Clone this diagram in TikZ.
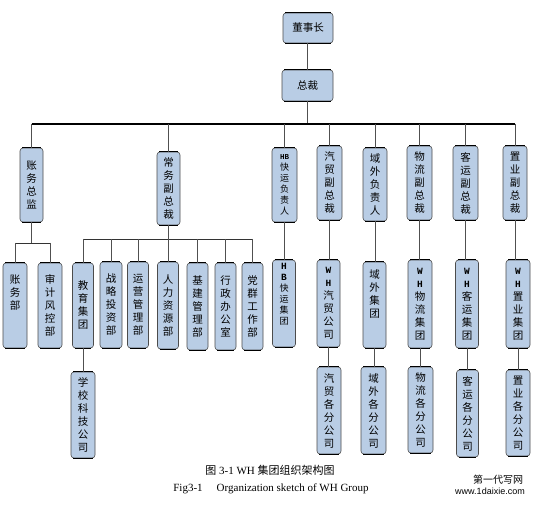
\documentclass[tikz,border=0pt]{standalone}
\usepackage{fontspec}
\setmainfont{Liberation Serif}
\newfontfamily\cjk{Noto Sans CJK SC}
\newfontfamily\monob{Liberation Mono}
\newfontfamily\wmsans{Liberation Sans}
\definecolor{boxblue}{HTML}{B9CDE5}
\definecolor{linegray}{HTML}{505050}
\newcommand\latl[1]{{\monob\bfseries\fontsize{9.5}{10}\selectfont #1}}
\begin{document}
\begin{tikzpicture}[x=1pt,y=-1pt,
  box/.style={draw=black!70, line width=0.6pt, fill=boxblue, rounded corners=3pt,
    inner sep=0pt, align=center, font={\cjk\fontsize{10.5}{13}\selectfont}},
  sbox/.style={box, font={\cjk\fontsize{9}{11}\selectfont}},
  conn/.style={draw=linegray, line width=0.7pt},
  busline/.style={draw=black, line width=1.6pt},
  subbus/.style={draw=black!80, line width=0.8pt}
]
\fill[white] (0,0) rectangle (545,510);
\useasboundingbox (0,0) rectangle (545,510);

\newcommand\bx[6]{\node[#1, minimum width=#4, minimum height=#5] (#2) at (#3) {#6};}

% level 0
\bx{box}{dsz}{308,28}{50pt}{30pt}{董事长}
\bx{box}{zc}{307.5,85.5}{51pt}{31pt}{总裁}

% level 1
\bx{box}{zw}{31.5,185}{23pt}{74pt}{账\\务\\总\\监}
\bx{box}{cw}{168.5,188.5}{23pt}{73pt}{常\\务\\副\\总\\裁}
\bx{sbox}{hb}{284.5,185}{25pt}{74pt}{{\monob\bfseries\fontsize{7.5}{8}\selectfont HB}\\快\\运\\负\\责\\人}
\bx{box}{qm}{329.5,183}{25pt}{74pt}{汽\\贸\\副\\总\\裁}
\bx{box}{yw}{375,184.5}{24pt}{73pt}{域\\外\\负\\责\\人}
\bx{box}{wl}{419.5,183}{25pt}{74pt}{物\\流\\副\\总\\裁}
\bx{box}{ky}{465.5,183}{25pt}{74pt}{客\\运\\副\\总\\裁}
\bx{box}{zy}{515,183}{24pt}{74pt}{置\\业\\副\\总\\裁}

% level 2
\bx{box}{cwb}{15,305.5}{24pt}{85pt}{账\\务\\部\\[14pt]}
\bx{box}{sj}{50,305.5}{24pt}{85pt}{审\\计\\风\\控\\部}
\bx{box}{jy}{83,305.5}{21pt}{85pt}{教\\育\\集\\团}
\bx{box}{zl}{111,305}{22pt}{86pt}{战\\略\\投\\资\\部}
\bx{box}{yy}{138,305}{21pt}{86pt}{运\\营\\管\\理\\部}
\bx{box}{rl}{168,305.5}{21pt}{87pt}{人\\力\\资\\源\\部}
\bx{box}{jj}{197.5,306.5}{21pt}{87pt}{基\\建\\管\\理\\部}
\bx{box}{xz}{225.5,306.5}{21pt}{87pt}{行\\政\\办\\公\\室}
\bx{box}{dq}{252.5,306.5}{21pt}{87pt}{党\\群\\工\\作\\部}
\bx{sbox}{hbg}{284,303.5}{23pt}{87pt}{\latl{H}\\\latl{B}\\快\\运\\集\\团\\[8pt]}
\bx{box}{qmg}{328.5,303.5}{23pt}{87pt}{\latl{W}\\\latl{H}\\汽\\贸\\公\\司}
\bx{box}{ywg}{374.5,305}{23pt}{86pt}{域\\外\\集\\团\\[10pt]}
\bx{box}{wlg}{420,304}{24pt}{88pt}{\latl{W}\\\latl{H}\\物\\流\\集\\团}
\bx{box}{kyg}{467,304}{23pt}{88pt}{\latl{W}\\\latl{H}\\客\\运\\集\\团}
\bx{box}{zyg}{518,304}{24pt}{88pt}{\latl{W}\\\latl{H}\\置\\业\\集\\团}

% level 3
\bx{box}{xx}{83,415}{24pt}{86pt}{学\\校\\科\\技\\公\\司}
\bx{box}{qmf}{329,410.5}{24pt}{87pt}{汽\\贸\\各\\分\\公\\司}
\bx{box}{ywf}{373.5,410.5}{25pt}{87pt}{域\\外\\各\\分\\公\\司}
\bx{box}{wlf}{420.5,410}{25pt}{86pt}{物\\流\\各\\分\\公\\司}
\bx{box}{kyf}{467.5,413.5}{22pt}{87pt}{客\\运\\各\\分\\公\\司}
\bx{box}{zyf}{518,413}{24pt}{86pt}{置\\业\\各\\分\\公\\司}

% thick top/bottom edges
\foreach \n in {dsz,zc,zw,cw,hb,qm,yw,wl,ky,zy,cwb,sj,jy,zl,yy,rl,jj,xz,dq,hbg,qmg,ywg,wlg,kyg,zyg,xx,qmf,ywf,wlf,kyf,zyf}{
  \draw[line width=1.4pt, black] ([xshift=2.5pt]\n.north west) -- ([xshift=-2.5pt]\n.north east);
  \draw[line width=1.4pt, black] ([xshift=2.5pt]\n.south west) -- ([xshift=-2.5pt]\n.south east);
}

% connectors
\coordinate (bus) at (304,124);
\coordinate (sub1) at (30,243);
\coordinate (sub2) at (168,239);
\draw[conn] (dsz.south -| zc.north) -- (zc.north);
\draw[conn] (zc.south) -- (zc.south |- bus);
\draw[busline] (zw.north |- bus) -- (zy.north |- bus);
\foreach \n in {zw,cw,hb,qm,yw,wl,ky,zy}{
  \draw[conn] (\n.north |- bus) -- (\n.north);
}
\draw[conn] (zw.south) -- (zw.south |- sub1);
\draw[subbus] (cwb.north |- sub1) -- (sj.north |- sub1);
\foreach \n in {cwb,sj}{ \draw[conn] (\n.north |- sub1) -- (\n.north); }
\draw[conn] (cw.south) -- (cw.south |- sub2);
\draw[subbus] (jy.north |- sub2) -- (dq.north |- sub2);
\foreach \n in {jy,zl,yy,rl,jj,xz,dq}{ \draw[conn] (\n.north |- sub2) -- (\n.north); }
\draw[conn] (jy.south) -- (jy.south |- xx.north);
\foreach \a/\b in {hb/hbg,qm/qmg,yw/ywg,wl/wlg,ky/kyg,zy/zyg,qmg/qmf,ywg/ywf,wlg/wlf,kyg/kyf,zyg/zyf}{
  \draw[conn] (\a.south) -- (\a.south |- \b.north);
}

% captions
\node[font={\fontsize{11}{13}\selectfont}] (cap1) at (270,470) {{\cjk 图} 3-1 WH {\cjk 集团组织架构图}};
\node[font={\fontsize{11}{13}\selectfont}] (cap2) at (271,489) {Fig3-1\hspace{14pt}Organization sketch of WH Group};
\node[font={\cjk\fontsize{10}{12}\selectfont}] (wm1) at (498,480) {第一代写网};
\node[font={\wmsans\fontsize{9}{11}\selectfont}] (wm2) at (490,491) {www.1daixie.com};
\end{tikzpicture}
\end{document}
